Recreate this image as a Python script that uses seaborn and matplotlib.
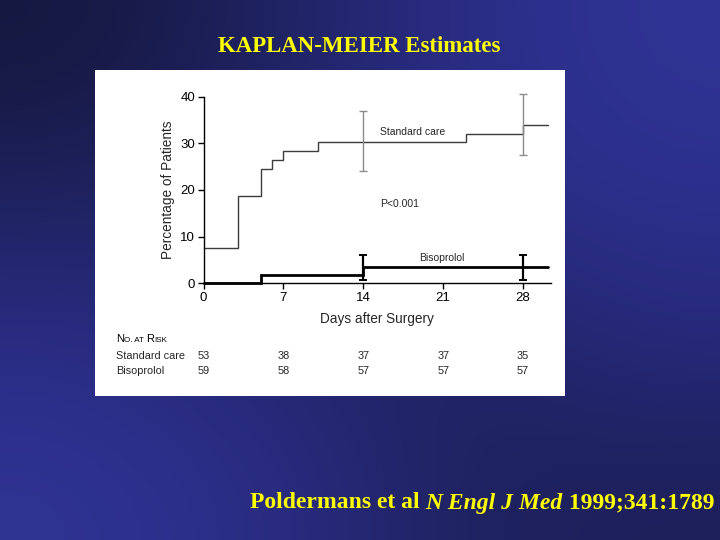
import numpy as np
import pandas as pd
import matplotlib
matplotlib.use("Agg")
import matplotlib.pyplot as plt
import seaborn as sns
from matplotlib.patches import Rectangle
from matplotlib.colors import to_rgb
from matplotlib.offsetbox import TextArea, HPacker, AnchoredOffsetbox
from matplotlib import transforms

# Kaplan-Meier steps (days, % of patients)
std_days = [0, 3, 5, 6, 7, 10, 23, 28, 30.2]
std_pct = [7.5, 18.8, 24.5, 26.5, 28.3, 30.2, 32.1, 33.9, 33.9]
biso_days = [0, 5, 14, 30.2]
biso_pct = [0, 1.7, 3.4, 3.4]

# confidence bars at day 14 and 28
ci_days = [14, 28]
std_ci_mid = [30.2, 33.9]
std_ci_low = [24.1, 27.5]
std_ci_high = [37.0, 40.5]
biso_ci_mid = [3.4, 3.4]
biso_ci_low = [0.7, 0.7]
biso_ci_high = [6.0, 6.0]

# number at risk table
risk_days = [0, 7, 14, 21, 28]
risk_std = [53, 38, 37, 37, 35]
risk_biso = [59, 58, 57, 57, 57]

yellow = "#ffff00"

sns.set_style("ticks")
plt.rcParams["font.family"] = ["Liberation Sans", "DejaVu Sans"]

fig = plt.figure(figsize=(7.2, 5.4), dpi=100)

# slide background (navy gradient)
ax_bg = fig.add_axes([0, 0, 1, 1], zorder=-10)
grid = [
    ["#15183f", "#1f2260", "#2a2d85", "#2f3394"],
    ["#1f225e", "#24276f", "#292c80", "#2c308c"],
    ["#2a2d85", "#23266c", "#1f2260", "#272a7c"],
    ["#2f3392", "#2a2d86", "#1f225f", "#1d205a"],
]
img = np.array([[to_rgb(c) for c in row] for row in grid])
ax_bg.imshow(img, extent=[0, 1, 0, 1], aspect="auto", interpolation="bicubic")
ax_bg.set_axis_off()

# white picture panel
fig.add_artist(Rectangle((95 / 720, 1 - 396 / 540), 470 / 720, 326 / 540,
                         transform=fig.transFigure, facecolor="white",
                         edgecolor="none", zorder=-5))

fig.text(359.5 / 720, 1 - 46 / 540, "KAPLAN-MEIER Estimates", color=yellow,
         family=["Liberation Serif"], weight="bold", fontsize=16.5,
         ha="center", va="center")

ax = fig.add_axes([203.5 / 720, 1 - 283.3 / 540, 347 / 720, 186.6 / 540])
ax.set_facecolor("none")

df = pd.concat([
    pd.DataFrame({"day": std_days, "pct": std_pct, "group": "Standard care"}),
    pd.DataFrame({"day": biso_days, "pct": biso_pct, "group": "Bisoprolol"}),
])
sns.lineplot(data=df, x="day", y="pct", hue="group", size="group",
             palette={"Standard care": "#3c3c3c", "Bisoprolol": "black"},
             sizes={"Standard care": 1.0, "Bisoprolol": 2.0},
             estimator=None, drawstyle="steps-post", legend=False, ax=ax)
for ln in ax.lines:
    ln.set_clip_on(False)
    ln.set_solid_joinstyle("miter")

eb1 = ax.errorbar(ci_days, std_ci_mid,
                  yerr=[np.subtract(std_ci_mid, std_ci_low), np.subtract(std_ci_high, std_ci_mid)],
                  fmt="none", ecolor="#8c8c8c", elinewidth=1.0, capsize=3, capthick=1.0)
eb2 = ax.errorbar(ci_days, biso_ci_mid,
                  yerr=[np.subtract(biso_ci_mid, biso_ci_low), np.subtract(biso_ci_high, biso_ci_mid)],
                  fmt="none", ecolor="black", elinewidth=1.6, capsize=3, capthick=1.4)
for eb in (eb1, eb2):
    for art in eb.get_children():
        art.set_clip_on(False)

ax.set_xlim(0, 30.4)
ax.set_ylim(0, 40)
ax.set_xticks(risk_days)
ax.set_yticks([0, 10, 20, 30, 40])
sns.despine(ax=ax)
for sp in ax.spines.values():
    sp.set_linewidth(1.0)
    sp.set_color("black")
ax.tick_params(direction="out", length=4, width=1, colors="black",
               labelsize=9.5, pad=2)
ax.set_xlabel("Days after Surgery", fontsize=9.8, labelpad=6)
ax.set_ylabel("Percentage of Patients", fontsize=9.8, labelpad=4)

ax.text(15.5, 32.4, "Standard care", fontsize=7.5, va="center", ha="left")
ax.text(15.45, 17.0, "P<0.001", fontsize=7.5, va="center", ha="left")
ax.text(18.9, 5.4, "Bisoprolol", fontsize=7.5, va="center", ha="left")

# number at risk
big = dict(fontsize=8, color="black")
small = dict(fontsize=5.8, color="black")
head = HPacker(children=[TextArea("N", textprops=big), TextArea("O. AT ", textprops=small),
                         TextArea("R", textprops=big), TextArea("ISK", textprops=small)],
               align="baseline", pad=0, sep=0)
fig.add_artist(AnchoredOffsetbox(loc="center left", child=head, pad=0, borderpad=0,
                                 frameon=False, bbox_to_anchor=(116 / 720, 1 - 339 / 540),
                                 bbox_transform=fig.transFigure))
fig.text(116 / 720, 1 - 356 / 540, "Standard care", fontsize=7.8, va="center", ha="left")
fig.text(116 / 720, 1 - 371 / 540, "Bisoprolol", fontsize=7.8, va="center", ha="left")
trans = transforms.blended_transform_factory(ax.transData, fig.transFigure)
for d, a, b in zip(risk_days, risk_std, risk_biso):
    fig.text(d, 1 - 356 / 540, str(a), fontsize=7.8, va="center", ha="center", transform=trans)
    fig.text(d, 1 - 371 / 540, str(b), fontsize=7.8, va="center", ha="center", transform=trans)

# citation footer
fprops = dict(color=yellow, family=["Liberation Serif"], weight="bold", fontsize=17)
iprops = dict(fprops, style="italic")
foot = HPacker(children=[TextArea("Poldermans et al ", textprops=fprops),
                         TextArea("N Engl J Med", textprops=iprops),
                         TextArea(" 1999;341:1789", textprops=fprops)],
               align="baseline", pad=0, sep=0)
fig.add_artist(AnchoredOffsetbox(loc="center left", child=foot, pad=0, borderpad=0,
                                 frameon=False, bbox_to_anchor=(250 / 720, 1 - 503 / 540),
                                 bbox_transform=fig.transFigure))

fig.savefig("out.png", dpi=100)
